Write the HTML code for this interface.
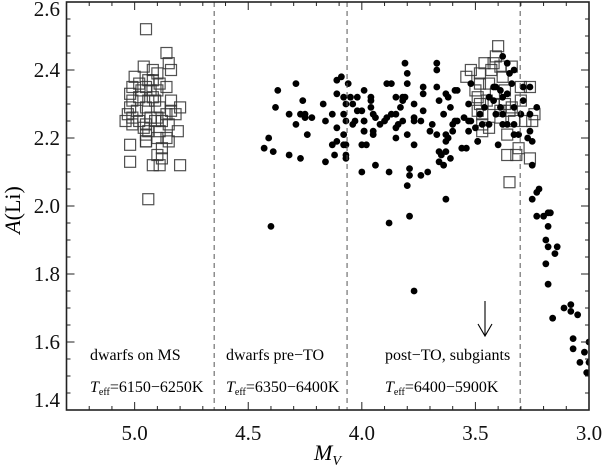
<!DOCTYPE html>
<html><head><meta charset="utf-8"><style>
html,body{margin:0;padding:0;background:#fff;}
svg{display:block;font-family:"Liberation Serif",serif;}
</style></head><body>
<svg id="chart" width="602" height="467" viewBox="0 0 602 467">
<defs><clipPath id="clip"><rect x="66.5" y="2" width="522.5" height="408"/></clipPath></defs>
<g id="marks" clip-path="url(#clip)"></g>
<g id="axes"></g>
</svg>
<script>
// ---- data ----
const xTicks = [5.0, 4.5, 4.0, 3.5, 3.0];
const xTickLabels = ["5.0", "4.5", "4.0", "3.5", "3.0"];
const yTicks = [1.4, 1.6, 1.8, 2.0, 2.2, 2.4, 2.6];
const yTickLabels = ["1.4", "1.6", "1.8", "2.0", "2.2", "2.4", "2.6"];
const dividers = [4.65, 4.065, 3.303];
const sqM = [4.95,4.86,4.85,4.84,4.96,4.92,5.00,4.90,4.98,4.94,5.01,4.86,5.02,4.97,4.93,4.90,5.01,4.98,4.94,4.91,4.84,4.80,5.02,4.99,4.95,4.89,4.84,4.82,5.03,5.01,4.93,4.88,5.04,5.01,4.95,4.91,4.85,4.94,4.89,4.81,4.95,4.86,4.95,4.90,4.85,5.02,4.95,4.88,4.90,4.88,5.02,4.92,4.89,4.80,4.94,4.92,4.89,4.95,4.92,4.86,4.98,4.90,4.96,
3.40,3.41,3.46,3.42,3.52,3.48,3.54,3.43,3.38,3.48,3.44,3.34,3.39,3.30,3.26,3.49,3.48,3.45,3.42,3.37,3.34,3.49,3.47,3.39,3.35,3.30,3.24,3.28,3.25,3.47,3.44,3.47,3.36,3.31,3.36,3.32,3.26,3.35,3.39,3.33,3.41,3.37,3.50];
const sqA = [2.52,2.45,2.42,2.40,2.41,2.40,2.38,2.39,2.36,2.37,2.35,2.35,2.33,2.34,2.34,2.34,2.31,2.32,2.31,2.31,2.31,2.29,2.29,2.28,2.29,2.29,2.28,2.27,2.27,2.26,2.26,2.25,2.25,2.24,2.24,2.25,2.24,2.22,2.22,2.22,2.21,2.20,2.19,2.20,2.19,2.18,2.19,2.17,2.15,2.14,2.13,2.12,2.12,2.12,2.02,2.37,2.36,2.35,2.32,2.27,2.25,2.26,2.23,
2.47,2.44,2.42,2.42,2.40,2.39,2.38,2.40,2.38,2.36,2.36,2.41,2.41,2.35,2.35,2.32,2.30,2.31,2.30,2.30,2.29,2.28,2.27,2.28,2.28,2.31,2.27,2.25,2.25,2.24,2.23,2.22,2.21,2.17,2.15,2.15,2.14,2.07,2.26,2.25,2.33,2.34,2.34];
const dotM = [4.09,4.11,4.06,4.29,4.37,3.99,4.11,4.08,4.05,4.02,4.26,4.17,4.07,4.04,4.38,4.02,4.00,4.32,4.27,4.25,4.13,4.08,4.25,4.22,4.16,4.07,4.03,4.04,3.99,4.29,4.11,3.99,4.24,4.08,4.41,4.11,4.13,4.08,4.07,4.00,3.98,4.43,4.39,4.32,4.12,4.07,4.07,4.27,4.16,4.00,4.40,
3.81,3.67,3.67,3.80,3.89,3.87,3.80,3.73,3.67,3.58,3.59,3.73,3.63,3.85,3.82,3.81,3.96,3.96,3.62,3.66,3.82,3.77,3.96,3.83,3.53,3.61,3.73,3.64,3.87,3.85,3.89,3.95,3.94,3.82,3.77,3.77,3.74,3.58,3.59,3.69,3.55,3.52,3.90,3.92,3.99,3.84,3.85,3.60,3.70,3.60,3.53,3.99,3.95,3.95,3.80,3.67,3.63,3.62,3.85,3.63,3.77,3.49,3.56,3.54,3.66,3.63,3.65,3.61,3.66,3.64,3.94,3.88,3.79,3.79,3.74,3.71,3.80,3.63,3.79,3.88,3.77,
3.38,3.36,3.33,3.35,3.29,3.26,3.42,3.41,3.39,3.34,3.52,3.36,3.38,3.44,3.42,3.29,3.46,3.39,3.33,3.23,3.30,3.26,3.48,3.41,3.38,3.53,3.47,3.44,3.38,3.36,3.33,3.26,3.50,3.33,3.31,3.27,3.25,3.49,3.40,3.25,3.22,3.23,
3.25,3.23,3.20,3.18,3.17,3.18,3.19,3.18,3.14,3.15,3.19,3.18,3.16,3.11,3.08,3.05,3.08,3.07,3.07,3.02,3.04,3.01,3.00,3.00];
const dotA = [2.38,2.37,2.36,2.36,2.34,2.34,2.33,2.32,2.32,2.32,2.31,2.30,2.30,2.30,2.29,2.28,2.28,2.27,2.27,2.27,2.27,2.27,2.26,2.26,2.25,2.25,2.25,2.24,2.25,2.24,2.23,2.22,2.21,2.21,2.20,2.19,2.18,2.18,2.18,2.18,2.18,2.17,2.16,2.15,2.15,2.15,2.14,2.14,2.13,2.10,1.94,
2.42,2.42,2.40,2.39,2.36,2.36,2.36,2.35,2.35,2.34,2.34,2.33,2.33,2.32,2.32,2.32,2.32,2.31,2.32,2.31,2.31,2.30,2.29,2.29,2.30,2.29,2.28,2.27,2.27,2.27,2.26,2.27,2.26,2.25,2.26,2.25,2.25,2.25,2.25,2.24,2.26,2.25,2.25,2.24,2.25,2.24,2.23,2.24,2.22,2.22,2.22,2.22,2.22,2.21,2.21,2.21,2.21,2.20,2.20,2.19,2.18,2.19,2.17,2.17,2.16,2.16,2.15,2.14,2.13,2.12,2.12,2.10,2.11,2.09,2.09,2.10,2.06,2.02,1.97,1.95,1.75,
2.44,2.42,2.40,2.39,2.35,2.35,2.35,2.35,2.34,2.36,2.36,2.33,2.32,2.32,2.31,2.31,2.29,2.29,2.29,2.29,2.27,2.27,2.27,2.27,2.27,2.25,2.24,2.24,2.24,2.24,2.24,2.22,2.23,2.21,2.21,2.20,2.19,2.19,2.18,2.12,2.05,2.04,
2.02,1.97,1.97,1.98,1.98,1.94,1.90,1.88,1.88,1.86,1.83,1.77,1.67,1.70,1.71,1.68,1.69,1.61,1.58,1.57,1.54,1.51,1.54,1.60];

// ---- scales ----
const X0=66.5, X1=589, Y0=2, Y1=410;
function xs(m){ return X0 + (5.3 - m) / (5.3 - 3.0) * (X1 - X0); }
function ys(a){ return Y1 - (a - 1.4) / (2.6 - 1.4) * (Y1 - Y0); }
const NS="http://www.w3.org/2000/svg";
function mk(tag, attrs, parent){ const e=document.createElementNS(NS,tag); for(const k in attrs) e.setAttribute(k,attrs[k]); parent.appendChild(e); return e; }
const marks=document.getElementById('marks'), axes=document.getElementById('axes');

// dividers
dividers.forEach(d=>{
  const l=mk('line',{x1:xs(d),x2:xs(d),y1:Y0,y2:Y1,stroke:'#555','stroke-width':1,'stroke-dasharray':'5,4'},axes);
  
  
});

// squares
for(let i=0;i<sqM.length;i++){
  const r=mk('rect',{x:xs(sqM[i])-5.5,y:ys(sqA[i])-5.5,width:11,height:11,fill:'none',stroke:'#333','stroke-opacity':0.85,'stroke-width':1.2},marks);
  
  
}
// dots
for(let i=0;i<dotM.length;i++){
  const c=mk('circle',{cx:xs(dotM[i]),cy:ys(dotA[i]),r:3.4,fill:'#000'},marks);
  
  
}

// frame
const fr=mk('rect',{x:X0,y:Y0,width:X1-X0,height:Y1-Y0,fill:'none',stroke:'#222','stroke-width':1.6},axes);



// x ticks
for(let k=0;k<=23;k++){
  const m=5.3-k*0.1; const x=xs(m);
  const major=Math.abs(m*2-Math.round(m*2))<1e-6; const len=major?8:4;
  mk('line',{x1:x,x2:x,y1:Y1,y2:Y1-len,stroke:'#222','stroke-width':1},axes);
  mk('line',{x1:x,x2:x,y1:Y0,y2:Y0+len,stroke:'#222','stroke-width':1},axes);
}
xTicks.forEach((t,i)=>{
  const tx=mk('text',{x:xs(t),y:440,'font-size':21,'text-anchor':'middle',fill:'#111'},axes);
  tx.textContent=xTickLabels[i];
  
  
});
// y ticks
for(let k=0;k<=24;k++){
  const a=1.4+k*0.05; const y=ys(a);
  const major=(k%4===0); const len=major?8:4;
  mk('line',{x1:X0,x2:X0+len,y1:y,y2:y,stroke:'#222','stroke-width':1},axes);
  mk('line',{x1:X1,x2:X1-len,y1:y,y2:y,stroke:'#222','stroke-width':1},axes);
}
yTicks.forEach((t,i)=>{
  const ty=ys(t)+7; const yy = i===0 ? ys(t)-3 : (i===yTicks.length-1 ? ys(t)+14 : ty);
  const tx=mk('text',{x:60,y:yy,'font-size':21,'text-anchor':'end',fill:'#111'},axes);
  tx.textContent=yTickLabels[i];
  
  
});
</script>
<svg width="602" height="467" style="position:absolute;left:0;top:0;font-family:'Liberation Serif',serif;">
  <text x="20" y="210" font-size="22" text-anchor="middle" transform="rotate(-90 20 210)"><tspan font-style="italic">A</tspan>(Li)</text>
  <text x="314" y="460" font-size="22" font-style="italic">M<tspan font-size="14" dy="5">V</tspan></text>
  <text x="90" y="360" font-size="16">dwarfs on MS</text>
  <text x="90" y="392" font-size="16"><tspan font-style="italic">T</tspan><tspan font-size="10" dy="3">eff</tspan><tspan dy="-3">=6150−6250K</tspan></text>
  <text x="226" y="360" font-size="16">dwarfs pre−TO</text>
  <text x="226" y="392" font-size="16"><tspan font-style="italic">T</tspan><tspan font-size="10" dy="3">eff</tspan><tspan dy="-3">=6350−6400K</tspan></text>
  <text x="385" y="360" font-size="16">post−TO, subgiants</text>
  <text x="385" y="392" font-size="16"><tspan font-style="italic">T</tspan><tspan font-size="10" dy="3">eff</tspan><tspan dy="-3">=6400−5900K</tspan></text>
  <g stroke="#000" stroke-width="1.1" fill="none">
    <line x1="485" y1="301" x2="485" y2="336"/>
    <polyline points="478,324 485,336 492,324"/>
  </g>
</svg>
</body></html>
